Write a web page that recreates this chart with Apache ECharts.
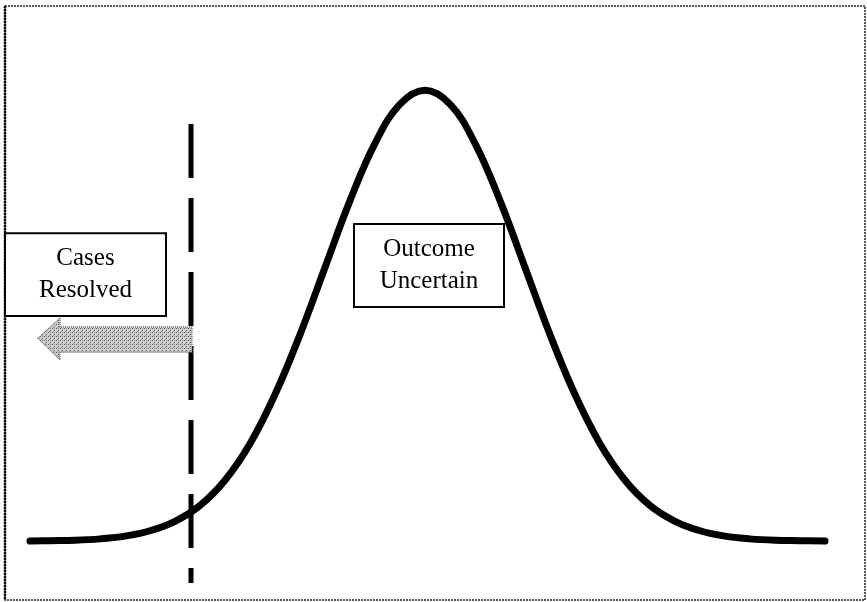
<!DOCTYPE html>
<html>
<head>
<meta charset="utf-8">
<script src="https://cdn.jsdelivr.net/npm/echarts@6/dist/echarts.min.js"></script>
<style>
html, body { margin: 0; padding: 0; background: #fff; }
#main { width: 867px; height: 602px; }
</style>
</head>
<body>
<div id="main"></div>
<script>
// outcome scale (std devs from centre) and curve height (% of peak)
const xs = [-3.95, -3.75, -3.5, -3.25, -3, -2.75, -2.5, -2.25, -2, -1.75, -1.5, -1.25, -1, -0.75, -0.5, -0.25,
  0, 0.25, 0.5, 0.75, 1, 1.25, 1.5, 1.75, 2, 2.25, 2.5, 2.75, 3, 3.25, 3.5, 3.75, 4]
const density = [0, 0.1, 0.2, 0.5, 1.1, 2.3, 4.4, 7.9, 13.5, 21.6, 32.5, 45.8, 60.7, 75.5, 88.2, 96.9,
  100, 96.9, 88.2, 75.5, 60.7, 45.8, 32.5, 21.6, 13.5, 7.9, 4.4, 2.3, 1.1, 0.5, 0.2, 0.1, 0]

// the cut-off (dashed line)
const cutoffX = -2.34
const cutoffY = [92.5, -9.3]

// annotations, in chart units
const labels = ['Cases\nResolved', 'Outcome\nUncertain']
const labelBoxes = [[-4.20, 68.3, -2.59, 49.9], [-0.71, 70.3, 0.79, 51.9]]
const arrowPts = [[-3.87, 45.0], [-3.65, 49.5], [-3.65, 47.5], [-2.33, 47.5], [-2.33, 41.9], [-3.65, 41.9], [-3.65, 40.2]]

const chart = echarts.init(document.getElementById('main'))

chart.setOption({
  animation: false,
  backgroundColor: '#fff',
  grid: { left: 0, right: 0, top: 0, bottom: 0 },
  xAxis: {
    type: 'value', min: -4.25, max: 4.42,
    axisLine: { show: false }, axisTick: { show: false }, axisLabel: { show: false }, splitLine: { show: false },
  },
  yAxis: {
    type: 'value', min: -13.5, max: 120,
    axisLine: { show: false }, axisTick: { show: false }, axisLabel: { show: false }, splitLine: { show: false },
  },
  series: [
    {
      type: 'line',
      data: xs.map((x, i) => [x, density[i]]),
      symbol: 'none',
      smooth: 0.4,
      lineStyle: { color: '#000', width: 7, cap: 'round', join: 'round' },
      z: 3,
    },
    {
      type: 'line',
      data: cutoffY.map(y => [cutoffX, y]),
      symbol: 'none',
      lineStyle: { color: '#000', width: 5, type: [54, 20], cap: 'butt' },
      z: 2,
    },
  ],
})

// dotted grey fill for the arrow
const pat = document.createElement('canvas')
pat.width = 4
pat.height = 4
const pctx = pat.getContext('2d')
pctx.fillStyle = '#d0d0d0'
pctx.fillRect(0, 0, 4, 4)
pctx.fillStyle = '#555'
pctx.fillRect(0, 0, 1, 1)
pctx.fillRect(2, 2, 1, 1)
pctx.fillStyle = '#8c8c8c'
pctx.fillRect(2, 0, 1, 1)
pctx.fillRect(1, 3, 1, 1)

const toPx = p => chart.convertToPixel({ gridIndex: 0 }, p)

const graphics = [
  {
    type: 'rect',
    shape: { x: 5, y: 6, width: 860, height: 594 },
    style: { fill: 'none', stroke: '#222', lineWidth: 1.5, lineDash: [2, 1] },
    z: 1,
  },
  {
    type: 'line',
    shape: { x1: 5, y1: 6, x2: 5, y2: 600 },
    style: { stroke: '#111', lineWidth: 2.5, lineDash: [2, 1] },
    z: 1,
  },
  {
    type: 'polygon',
    shape: { points: arrowPts.map(toPx) },
    style: { fill: { image: pat, repeat: 'repeat' }, stroke: '#666', lineWidth: 1.2, lineDash: [1, 1] },
    z: 10,
  },
]

labelBoxes.forEach((b, i) => {
  const p1 = toPx([b[0], b[1]])
  const p2 = toPx([b[2], b[3]])
  graphics.push({
    type: 'rect',
    shape: { x: p1[0], y: p1[1], width: p2[0] - p1[0], height: p2[1] - p1[1] },
    style: { fill: '#fff', stroke: '#000', lineWidth: 2 },
    z: 11,
  })
  graphics.push({
    type: 'text',
    x: (p1[0] + p2[0]) / 2,
    y: (p1[1] + p2[1]) / 2,
    style: {
      text: labels[i],
      fill: '#000',
      font: '25px "Liberation Serif", "Times New Roman", serif',
      lineHeight: 32,
      align: 'center',
      verticalAlign: 'middle',
    },
    z: 12,
  })
})

chart.setOption({ graphic: graphics })
</script>
</body>
</html>
